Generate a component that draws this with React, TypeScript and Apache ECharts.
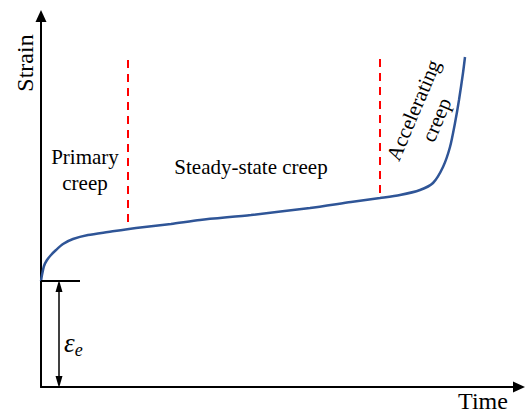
import React, { useEffect, useRef } from "react";
import * as echarts from "echarts";

// Creep curve (time, strain) in chart units
const creepTime = [0, 1, 3, 6, 10, 15, 22, 32, 47, 67, 95, 130, 159, 210, 269, 310, 339, 359, 379, 392, 402, 409, 414, 418, 422, 424];
const creepStrain = [106, 112, 121, 127, 132, 137, 143, 148, 152, 155, 159, 163, 167, 172, 179, 185, 189, 192, 197, 204, 220, 240, 264, 287, 314, 330];

// Stage boundaries (dashed red)
const boundary1 = [[87, 165], [87, 330]];
const boundary2 = [[339, 194], [339, 330]];

// Elastic strain marker
const elasticLevel = 106;
const elasticTick = [[0, 106], [39, 106]];
const elasticArrowX = 18;

const xMax = 478;
const yMax = 371;

const FONT = "Liberation Serif";

export default function App() {
  const ref = useRef<HTMLDivElement>(null);
  useEffect(() => {
    if (!ref.current) return;
    const chart = echarts.init(ref.current, null, { renderer: "svg" });
    const axisCommon = {
      type: "value" as const,
      axisLine: {
        show: true,
        symbol: ["none", "triangle"],
        symbolSize: [11, 12],
        lineStyle: { color: "#000", width: 2 },
      },
      axisTick: { show: false },
      axisLabel: { show: false },
      splitLine: { show: false },
    };
    const txt = (size: number, extra: any = {}) => ({
      fontFamily: FONT,
      fontSize: size,
      fill: "#000",
      align: "center",
      verticalAlign: "middle",
      ...extra,
    });
    chart.setOption({
      animation: false,
      backgroundColor: "#fff",
      grid: { left: 41, right: 8, top: 16, bottom: 28 },
      xAxis: { ...axisCommon, min: 0, max: xMax },
      yAxis: { ...axisCommon, min: 0, max: yMax },
      series: [
        {
          type: "line",
          data: creepTime.map((t, i) => [t, creepStrain[i]]),
          smooth: 0.25,
          showSymbol: false,
          lineStyle: { color: "#2F5597", width: 2.5 },
        },
        {
          type: "line",
          data: boundary1,
          showSymbol: false,
          lineStyle: { color: "#FF0000", width: 2, type: [8, 6] },
        },
        {
          type: "line",
          data: boundary2,
          showSymbol: false,
          lineStyle: { color: "#FF0000", width: 2, type: [8, 6] },
        },
        {
          type: "line",
          data: elasticTick,
          showSymbol: false,
          lineStyle: { color: "#000", width: 2 },
          markLine: {
            silent: true,
            symbol: ["triangle", "triangle"],
            symbolSize: [7, 12],
            label: { show: false },
            lineStyle: { color: "#000", width: 1.5, type: "solid" },
            data: [[{ coord: [elasticArrowX, elasticLevel - 5] }, { coord: [elasticArrowX, 5] }]],
          },
        },
      ],
      graphic: [
        {
          type: "text",
          x: 25,
          y: 63,
          rotation: Math.PI / 2,
          style: { text: "Strain", ...txt(24) },
        },
        {
          type: "text",
          x: 483,
          y: 401,
          style: { text: "Time", ...txt(24) },
        },
        {
          type: "text",
          x: 85,
          y: 170,
          style: { text: "Primary\ncreep", ...txt(21, { lineHeight: 26 }) },
        },
        {
          type: "text",
          x: 251,
          y: 167,
          style: { text: "Steady-state creep", ...txt(21) },
        },
        {
          type: "text",
          x: 425,
          y: 115,
          rotation: (67 * Math.PI) / 180,
          style: { text: "Accelerating\ncreep", ...txt(21, { lineHeight: 25 }) },
        },
        {
          type: "text",
          x: 64,
          y: 343,
          style: {
            text: "{a|ε}{b|e}",
            fontFamily: FONT,
            verticalAlign: "middle",
            align: "left",
            rich: {
              a: { fontFamily: FONT, fontStyle: "italic", fontSize: 27, fill: "#000" },
              b: { fontFamily: FONT, fontStyle: "italic", fontSize: 18, fill: "#000", padding: [14, 0, 0, 0] },
            },
          },
        },
      ],
    });
    return () => chart.dispose();
  }, []);
  return (
    <div
      ref={ref}
      style={{ position: "fixed", left: 0, top: 0, width: 527, height: 415, background: "#fff" }}
    />
  );
}
